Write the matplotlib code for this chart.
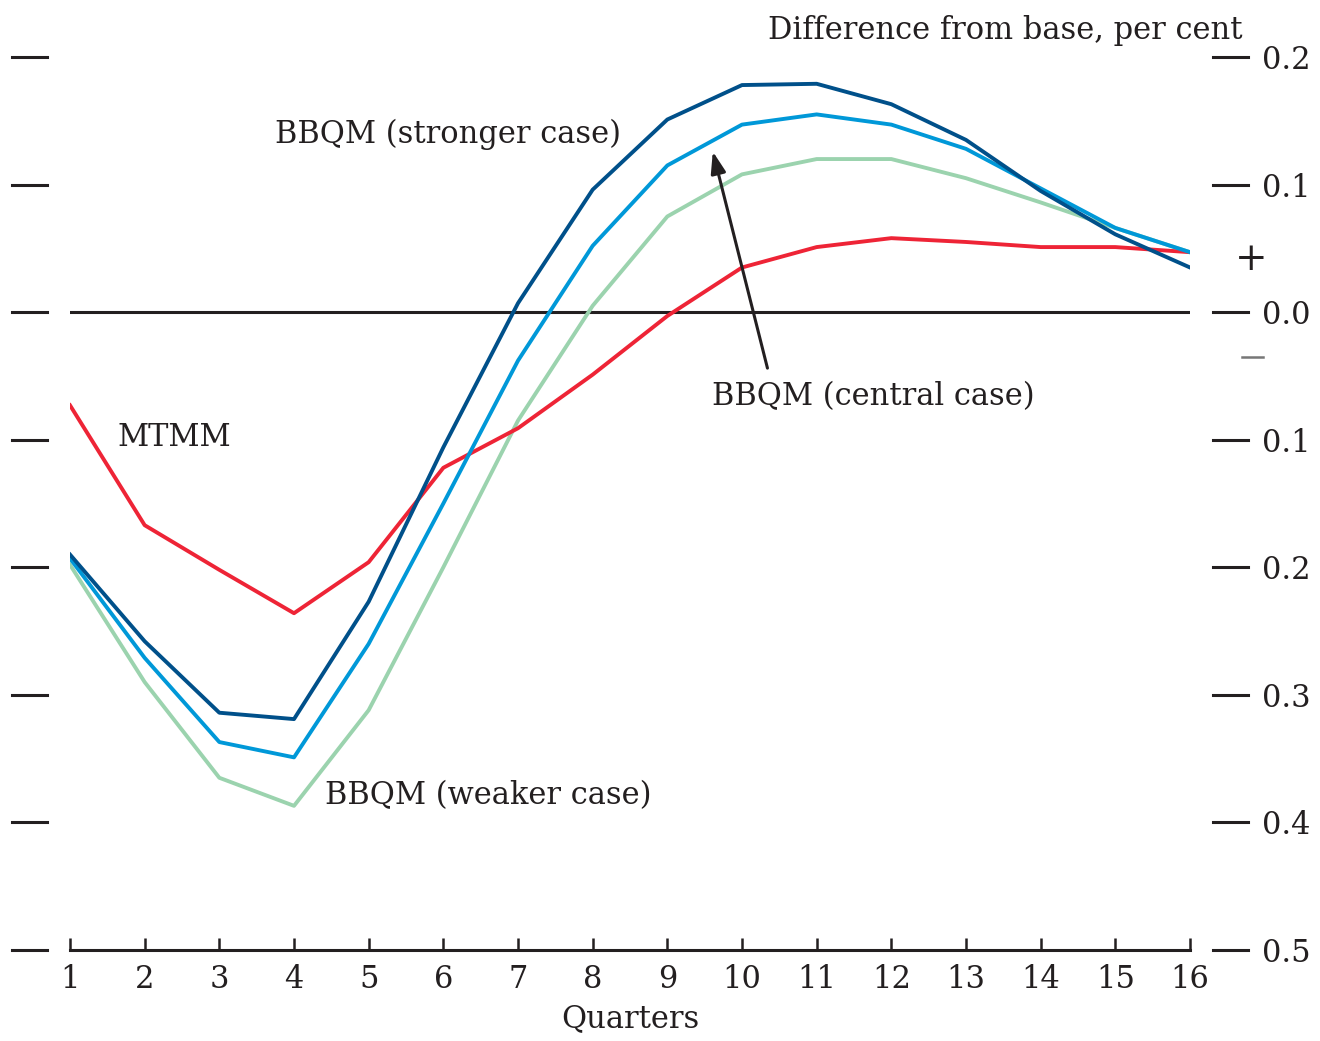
import matplotlib
matplotlib.use("Agg")
import matplotlib.pyplot as plt
from matplotlib.transforms import blended_transform_factory
from matplotlib.lines import Line2D

quarters = list(range(1, 17))
stronger = [-0.190, -0.258, -0.314, -0.319, -0.227, -0.106, 0.007, 0.096,
            0.151, 0.178, 0.179, 0.163, 0.135, 0.095, 0.061, 0.035]
central = [-0.193, -0.271, -0.337, -0.349, -0.260, -0.150, -0.038, 0.052,
           0.115, 0.147, 0.155, 0.147, 0.128, 0.097, 0.066, 0.047]
weaker = [-0.198, -0.290, -0.365, -0.387, -0.312, -0.200, -0.085, 0.005,
          0.075, 0.108, 0.120, 0.120, 0.105, 0.086, 0.066, 0.047]
mtmm = [-0.073, -0.167, -0.202, -0.236, -0.196, -0.122, -0.091, -0.049,
        -0.003, 0.035, 0.051, 0.058, 0.055, 0.051, 0.051, 0.047]
y_ticks = [0.2, 0.1, 0.0, -0.1, -0.2, -0.3, -0.4, -0.5]
y_labels = ["0.2", "0.1", "0.0", "0.1", "0.2", "0.3", "0.4", "0.5"]

plt.rcParams['font.family'] = ['DejaVu Serif']
FS = 22
BLACK = '#231F20'

fig = plt.figure(figsize=(13.2, 10.41), dpi=100)
ax = fig.add_axes([70/1320, 91/1041, 1120/1320, 893/1041])
ax.set_xlim(1, 16)
ax.set_ylim(-0.5, 0.2)

ax.axhline(0, color=BLACK, lw=2.2, zorder=1)
ax.plot(quarters, mtmm, color='#EE2436', lw=2.8, zorder=3)
ax.plot(quarters, weaker, color='#9BD3AE', lw=2.8, zorder=2)
ax.plot(quarters, central, color='#0098D8', lw=2.8, zorder=3)
ax.plot(quarters, stronger, color='#00508A', lw=2.8, zorder=4)

for s in ['top', 'right', 'left']:
    ax.spines[s].set_visible(False)
ax.spines['bottom'].set_color(BLACK)
ax.spines['bottom'].set_linewidth(2.2)

ax.set_xticks(quarters)
ax.set_xticklabels([str(q) for q in quarters], fontsize=FS, color=BLACK)
ax.tick_params(axis='x', direction='in', length=9, width=1.8, color=BLACK, pad=10)
ax.set_xlabel("Quarters", fontsize=FS, color=BLACK, labelpad=6)

ax.yaxis.tick_right()
ax.set_yticks(y_ticks)
ax.set_yticklabels(y_labels, fontsize=FS, color=BLACK)
ax.tick_params(axis='y', length=0, pad=52)

trans = blended_transform_factory(fig.transFigure, ax.transData)
for v in y_ticks:
    fig.add_artist(Line2D([12/1320, 47/1320], [v, v], transform=trans,
                          color=BLACK, lw=2.2))
    fig.add_artist(Line2D([1213/1320, 1248/1320], [v, v], transform=trans,
                          color=BLACK, lw=2.2))

fig.text(1243/1320, 1 - 30/1041, "Difference from base, per cent",
         ha='right', va='center', fontsize=FS, color=BLACK)
fig.text(1251/1320, 1 - 259/1041, "+", ha='center', va='center',
         fontsize=28, color=BLACK)
fig.add_artist(Line2D([1242/1320, 1263/1320], [1 - 357/1041, 1 - 357/1041],
                      transform=fig.transFigure, color='#777777', lw=1.8))

ax.text(3.745, 0.139, "BBQM (stronger case)", fontsize=FS, color=BLACK,
        ha='left', va='center')
ax.text(1.63, -0.098, "MTMM", fontsize=FS, color=BLACK, ha='left', va='center')
ax.text(9.6, -0.066, "BBQM (central case)", fontsize=FS, color=BLACK,
        ha='left', va='center')
ax.text(4.415, -0.379, "BBQM (weaker case)", fontsize=FS, color=BLACK,
        ha='left', va='center')
ax.annotate("", xy=(9.6, 0.128), xytext=(10.35, -0.046),
            arrowprops=dict(arrowstyle='-|>,head_length=1.3,head_width=0.45',
                            color=BLACK, lw=2.2))

fig.savefig("out.png", dpi=100)
